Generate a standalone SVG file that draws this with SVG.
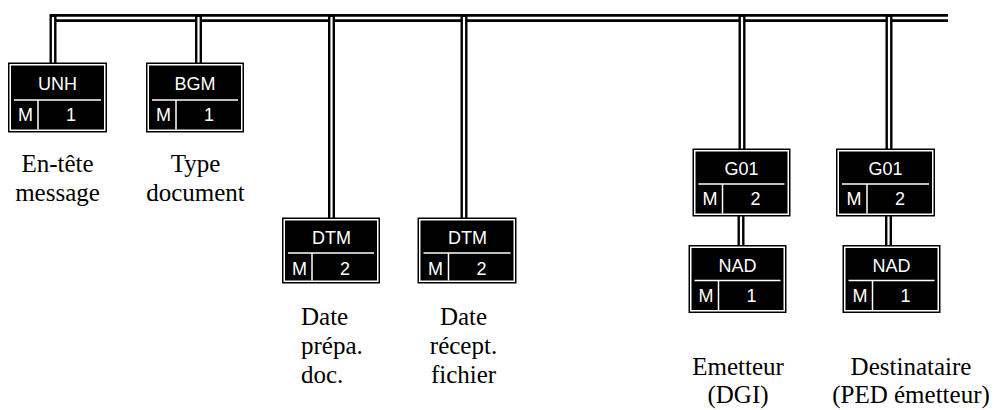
<svg xmlns="http://www.w3.org/2000/svg" width="1004" height="410" viewBox="0 0 1004 410">
<style>
.ob{fill:#fff;stroke:#000;stroke-width:1.5}
.ib{fill:#000}
.dv{stroke:#fff;stroke-width:1.5}
.bt{font-family:"Liberation Sans",Arial,sans-serif;font-size:18px;fill:#fff;text-anchor:middle}
.lb{font-family:"Liberation Serif","Times New Roman",serif;font-size:25px;fill:#000}
.c{text-anchor:middle}
.kb{stroke:#000;fill:none}
.kw{stroke:#fff;fill:none}
</style>
<rect width="1004" height="410" fill="#fff"/>
<g id="connectors">
  <line class="kb" x1="50" y1="18" x2="948" y2="18" stroke-width="8"/>
  <line class="kw" x1="50" y1="18" x2="948" y2="18" stroke-width="2.5"/>
  <g stroke-width="7" class="kb">
    <line x1="53" y1="14" x2="53" y2="63"/>
    <line x1="198.5" y1="14" x2="198.5" y2="63"/>
    <line x1="331.5" y1="14" x2="331.5" y2="218"/>
    <line x1="464" y1="14" x2="464" y2="218"/>
    <line x1="742" y1="14" x2="742" y2="149"/>
    <line x1="889" y1="14" x2="889" y2="149"/>
    <line x1="741" y1="215" x2="741" y2="246"/>
    <line x1="888.5" y1="215" x2="888.5" y2="246"/>
  </g>
  <g stroke-width="2.2" class="kw">
    <line x1="53" y1="17" x2="53" y2="63"/>
    <line x1="198.5" y1="17" x2="198.5" y2="63"/>
    <line x1="331.5" y1="17" x2="331.5" y2="218"/>
    <line x1="464" y1="17" x2="464" y2="218"/>
    <line x1="742" y1="17" x2="742" y2="149"/>
    <line x1="889" y1="17" x2="889" y2="149"/>
    <line x1="741" y1="215" x2="741" y2="246"/>
    <line x1="888.5" y1="215" x2="888.5" y2="246"/>
  </g>
</g>
<g id="n-unh" transform="translate(8,62.5)">
  <rect class="ob" x="0.75" y="0.75" width="97.5" height="68.5"/>
  <rect class="ib" x="3" y="3" width="93" height="64"/>
  <line class="dv" x1="6" y1="37.5" x2="93" y2="37.5"/>
  <line class="dv" x1="30" y1="37.5" x2="30" y2="67"/>
  <text class="bt" x="49.5" y="27.5">UNH</text>
  <text class="bt" x="17.5" y="58">M</text>
  <text class="bt" x="63" y="58">1</text>
</g>
<g id="n-bgm" transform="translate(146,62.5)">
  <rect class="ob" x="0.75" y="0.75" width="96.5" height="68.5"/>
  <rect class="ib" x="3" y="3" width="92" height="64"/>
  <line class="dv" x1="6" y1="37.5" x2="92" y2="37.5"/>
  <line class="dv" x1="30" y1="37.5" x2="30" y2="67"/>
  <text class="bt" x="49" y="27.5">BGM</text>
  <text class="bt" x="17.5" y="58">M</text>
  <text class="bt" x="63" y="58">1</text>
</g>
<g id="n-dtm1" transform="translate(282,217.5)">
  <rect class="ob" x="0.75" y="0.75" width="96.5" height="64.5"/>
  <rect class="ib" x="3" y="3" width="92" height="60"/>
  <line class="dv" x1="6" y1="35.5" x2="92" y2="35.5"/>
  <line class="dv" x1="30" y1="35.5" x2="30" y2="63"/>
  <text class="bt" x="49.5" y="26">DTM</text>
  <text class="bt" x="17.5" y="57">M</text>
  <text class="bt" x="63" y="57">2</text>
</g>
<g id="n-dtm2" transform="translate(417.5,217.5)">
  <rect class="ob" x="0.75" y="0.75" width="97.5" height="64.5"/>
  <rect class="ib" x="3" y="3" width="93" height="60"/>
  <line class="dv" x1="6" y1="35.5" x2="93" y2="35.5"/>
  <line class="dv" x1="31" y1="35.5" x2="31" y2="63"/>
  <text class="bt" x="50" y="26">DTM</text>
  <text class="bt" x="18" y="57">M</text>
  <text class="bt" x="64" y="57">2</text>
</g>
<g id="n-g01a" transform="translate(692.5,148.5)">
  <rect class="ob" x="0.75" y="0.75" width="96.5" height="66.5"/>
  <rect class="ib" x="3" y="3" width="92" height="62"/>
  <line class="dv" x1="6" y1="35.5" x2="92" y2="35.5"/>
  <line class="dv" x1="30" y1="35.5" x2="30" y2="65"/>
  <text class="bt" x="49" y="26.5">G01</text>
  <text class="bt" x="17.5" y="56.5">M</text>
  <text class="bt" x="63" y="56.5">2</text>
</g>
<g id="n-nada" transform="translate(688.5,245)">
  <rect class="ob" x="0.75" y="0.75" width="96.5" height="66.5"/>
  <rect class="ib" x="3" y="3" width="92" height="62"/>
  <line class="dv" x1="6" y1="35.5" x2="92" y2="35.5"/>
  <line class="dv" x1="30" y1="35.5" x2="30" y2="65"/>
  <text class="bt" x="49" y="26.5">NAD</text>
  <text class="bt" x="17.5" y="56.5">M</text>
  <text class="bt" x="63" y="56.5">1</text>
</g>
<g id="n-g01b" transform="translate(836,148.5)">
  <rect class="ob" x="0.75" y="0.75" width="97.5" height="66.5"/>
  <rect class="ib" x="3" y="3" width="93" height="62"/>
  <line class="dv" x1="6" y1="35.5" x2="93" y2="35.5"/>
  <line class="dv" x1="31" y1="35.5" x2="31" y2="65"/>
  <text class="bt" x="49.5" y="26.5">G01</text>
  <text class="bt" x="18" y="56.5">M</text>
  <text class="bt" x="64" y="56.5">2</text>
</g>
<g id="n-nadb" transform="translate(842.5,245)">
  <rect class="ob" x="0.75" y="0.75" width="96.5" height="66.5"/>
  <rect class="ib" x="3" y="3" width="92" height="62"/>
  <line class="dv" x1="6" y1="35.5" x2="92" y2="35.5"/>
  <line class="dv" x1="30" y1="35.5" x2="30" y2="65"/>
  <text class="bt" x="49" y="26.5">NAD</text>
  <text class="bt" x="17.5" y="56.5">M</text>
  <text class="bt" x="63" y="56.5">1</text>
</g>
<g id="labels">
  <text class="lb c" x="57.5" y="172">En-tête</text>
  <text class="lb c" x="57.5" y="201">message</text>
  <text class="lb c" x="195.5" y="172">Type</text>
  <text class="lb c" x="195.5" y="201">document</text>
  <text class="lb" x="301" y="325">Date</text>
  <text class="lb" x="301" y="354">prépa.</text>
  <text class="lb" x="301" y="383">doc.</text>
  <text class="lb c" x="463.5" y="325">Date</text>
  <text class="lb c" x="463.5" y="354">récept.</text>
  <text class="lb c" x="463.5" y="383">fichier</text>
  <text class="lb c" x="738" y="375">Emetteur</text>
  <text class="lb c" x="738" y="403">(DGI)</text>
  <text class="lb c" x="911" y="375">Destinataire</text>
  <text class="lb c" x="911" y="403">(PED émetteur)</text>
</g>
</svg>
